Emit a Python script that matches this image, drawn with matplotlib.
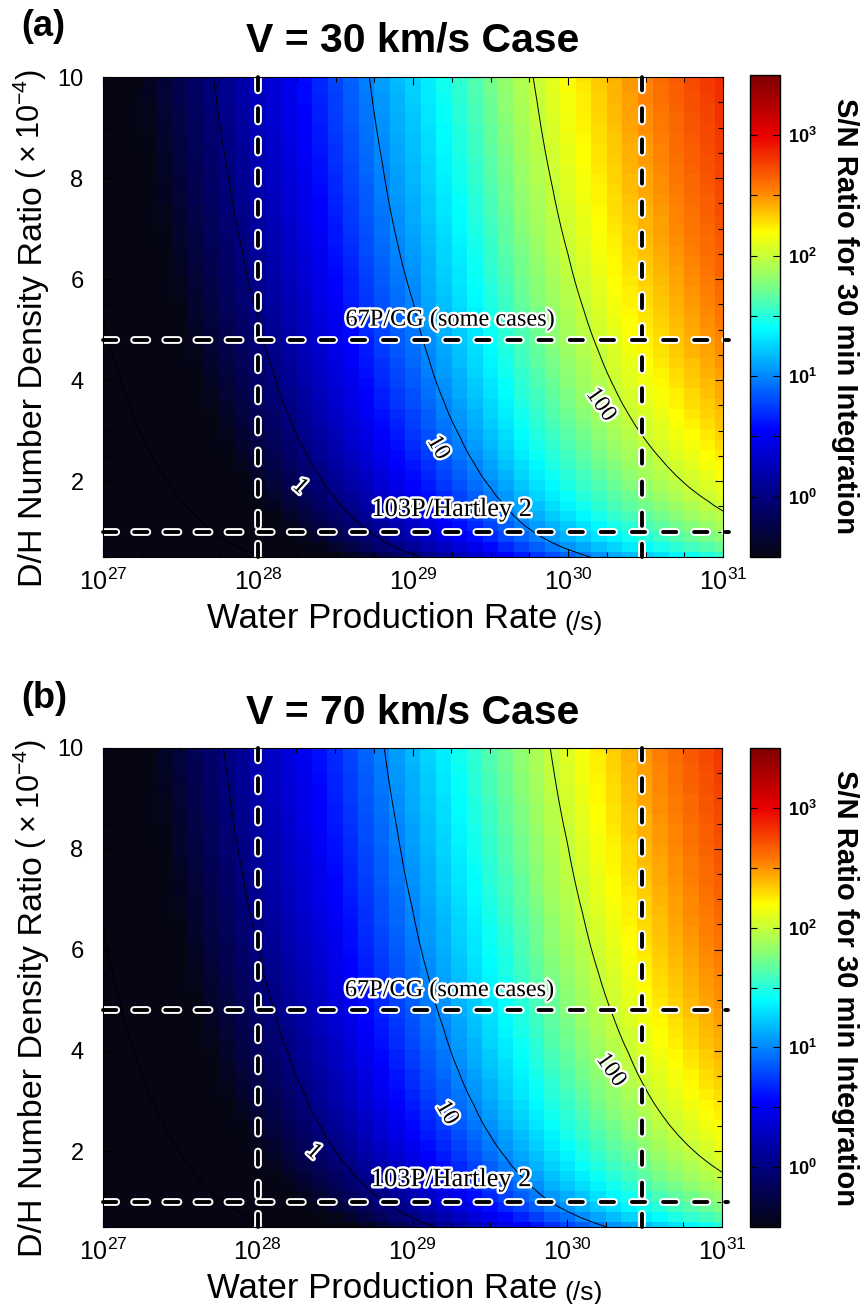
import numpy as np
import matplotlib
matplotlib.use('Agg')
import matplotlib.pyplot as plt
from matplotlib.colors import LogNorm, LinearSegmentedColormap
from matplotlib.ticker import FixedLocator, MultipleLocator, NullFormatter
import matplotlib.patheffects as pe

plt.rcParams['font.family'] = ['Liberation Sans', 'DejaVu Sans']
plt.rcParams['mathtext.fontset'] = 'custom'
plt.rcParams['mathtext.rm'] = 'Liberation Sans'
plt.rcParams['mathtext.it'] = 'Liberation Sans:italic'
plt.rcParams['mathtext.bf'] = 'Liberation Sans:bold'

# grid: log10 of water production rate (/s) and D/H ratio (x1e-4)
log_q = np.round(np.arange(27.0, 31.01, 0.1), 1)
dh = np.linspace(0.5, 10.0, 48)

# S/N (30 min) per unit D/H (x1e-4)
sn_per_dh_30 = [0.0193, 0.0243, 0.0306, 0.0385, 0.0485, 0.061, 0.077, 0.097, 0.122, 0.153,
                0.192, 0.242, 0.305, 0.383, 0.48, 0.605, 0.76, 0.955, 1.20, 1.49,
                1.80, 2.25, 2.80, 3.45, 4.30, 5.35, 6.70, 8.50, 10.5, 12.8,
                15.4, 18.5, 22.0, 26.0, 30.5, 35.5, 41.0, 47.5, 54.5, 62.0, 71.0]
sn_per_dh_70 = [0.0155, 0.0197, 0.0250, 0.0317, 0.0403, 0.051, 0.065, 0.083, 0.105, 0.133,
                0.165, 0.206, 0.256, 0.319, 0.397, 0.495, 0.616, 0.77, 0.96, 1.19,
                1.47, 1.82, 2.25, 2.80, 3.45, 4.30, 5.30, 6.60, 8.20, 10.2,
                12.3, 14.9, 18.0, 21.5, 25.5, 30.5, 36.0, 42.0, 48.5, 55.5, 63.0]

titles = ['V = 30 km/s Case', 'V = 70 km/s Case']
tags = ['(a)', '(b)']
levels = [0.1, 1, 10, 100]
label_levels = ['1', '10', '100']
label_pos = [[(28.27, 1.89), (29.16, 2.66), (30.21, 3.51)],
             [(28.36, 1.99), (29.22, 2.76), (30.28, 3.61)]]
label_rot = [-42, -60, -55]

q_lines = [28.0, 30.48]
dh_lines = [4.8, 1.0]
comet_names = ['67P/CG (some cases)', '103P/Hartley 2']
comet_pos = [(29.24, 5.19), (29.25, 1.43)]
comet_size = [17.5, 19]

# jet-like map with a dark lead-in, anchors
cmap = LinearSegmentedColormap.from_list('sn_jet', [
    (0.00, (0.02, 0.02, 0.08)),
    (0.125, (0.0, 0.0, 0.50)),
    (0.2625, (0.0, 0.0, 1.0)),
    (0.475, (0.0, 1.0, 1.0)),
    (0.575, (0.55, 1.0, 0.45)),
    (0.675, (1.0, 1.0, 0.0)),
    (0.7625, (1.0, 0.5, 0.0)),
    (0.875, (0.92, 0.0, 0.0)),
    (1.00, (0.5, 0.0, 0.0))], N=256)
norm = LogNorm(10 ** -0.5, 10 ** 3.5)

W, H = 862, 1304
fig = plt.figure(figsize=(W / 100, H / 100), dpi=100)


def box(l, t, r, b):
    return [l / W, 1 - b / H, (r - l) / W, (b - t) / H]


ax_boxes = [(103, 77, 723, 557), (103, 748, 722, 1227)]
cb_boxes = [(750, 75, 780, 557), (750, 748, 780, 1227)]
title_y = [52, 723]
tag_y = [36, 708]

white = [pe.withStroke(linewidth=3.5, foreground='white')]
dash_fx = [pe.Stroke(linewidth=5.6, foreground='white'), pe.Normal()]

for i, g in enumerate([sn_per_dh_30, sn_per_dh_70]):
    ax = fig.add_axes(box(*ax_boxes[i]))
    z = np.outer(dh, g)
    mesh = ax.pcolormesh(log_q, dh, z, cmap=cmap, norm=norm, shading='nearest')
    ax.contour(log_q, dh, z, levels=levels, colors='k', linewidths=0.7)
    for (x, y), s, r in zip(label_pos[i], label_levels, label_rot):
        ax.text(x, y, s, rotation=r, ha='center', va='center', fontsize=17,
                family='Liberation Serif', path_effects=white)

    for q in q_lines:
        ax.plot([q, q], [0.5, 10], color='k', lw=2.8, dashes=(3.4, 4.6),
                dash_capstyle='round', path_effects=dash_fx, clip_on=False)
    for d in dh_lines:
        ax.plot([27, 31.04], [d, d], color='k', lw=2.8, dashes=(3.4, 4.6),
                dash_capstyle='round', path_effects=dash_fx, clip_on=False)
    for s, (x, y), fs in zip(comet_names, comet_pos, comet_size):
        ax.text(x, y, s, ha='center', va='center', fontsize=fs,
                family='Liberation Serif', path_effects=white)

    ax.set_xlim(27, 31)
    ax.set_ylim(0.5, 10)
    ax.set_xticks([27, 28, 29, 30, 31])
    ax.set_xticklabels(['$10^{%d}$' % v for v in range(27, 32)])
    ax.xaxis.set_minor_locator(MultipleLocator(0.25))
    ax.set_yticks([2, 4, 6, 8, 10])
    ax.yaxis.set_minor_locator(MultipleLocator(0.5))
    ax.tick_params(which='both', direction='in', top=True, right=True, width=0.8)
    ax.tick_params(which='major', length=6)
    ax.tick_params(which='minor', length=3.5)
    ax.tick_params(axis='x', labelsize=18, pad=8)
    ax.tick_params(axis='y', labelsize=17, pad=14)

    l, t, r, b = ax_boxes[i]
    fig.text((l + r) / 2 / W, 1 - title_y[i] / H, titles[i], ha='center', va='baseline',
             fontsize=29.5, fontweight='bold')
    fig.text(21 / W, 1 - tag_y[i] / H, tags[i], ha='left', va='baseline',
             fontsize=26, fontweight='bold')

    xl = fig.text(207 / W, 1 - (b + 71) / H, 'Water Production Rate', ha='left',
                  va='baseline', fontsize=25)
    ax.annotate('(/s)', xy=(1, 0), xycoords=xl, xytext=(5, 0), textcoords='offset points',
                fontsize=19, ha='left', va='bottom')
    yl = fig.text(49 / W, 1 - (b + 30) / H, 'D/H Number Density Ratio', rotation=90,
                  ha='right', va='bottom', fontsize=24.5)
    ax.annotate('(\u2009\u00d7\u200910$^{-4}$)', xy=(1, 1), xycoords=yl, xytext=(0, 5),
                textcoords='offset points', rotation=90, fontsize=22,
                ha='right', va='bottom')

    cax = fig.add_axes(box(*cb_boxes[i]))
    cb = fig.colorbar(mesh, cax=cax)
    cb.outline.set_linewidth(1.0)
    cax.yaxis.set_major_locator(FixedLocator([1, 10, 100, 1000]))
    cax.yaxis.set_minor_locator(FixedLocator([10 ** 0.5, 10 ** 1.5, 10 ** 2.5]))
    cax.yaxis.set_minor_formatter(NullFormatter())
    cax.set_yticklabels([r'$\mathbf{10^{%d}}$' % v for v in range(4)])
    cax.tick_params(which='both', direction='in', left=True, right=True, length=5,
                    width=0.8, labelsize=13, pad=6)
    cl, ct, cr, cbm = cb_boxes[i]
    fig.text(845 / W, 1 - (ct + cbm) / 2 / H, 'S/N Ratio for 30 min Integration',
             rotation=270, ha='center', va='center', fontsize=21, fontweight='bold')

fig.savefig('out.png', dpi=100)
